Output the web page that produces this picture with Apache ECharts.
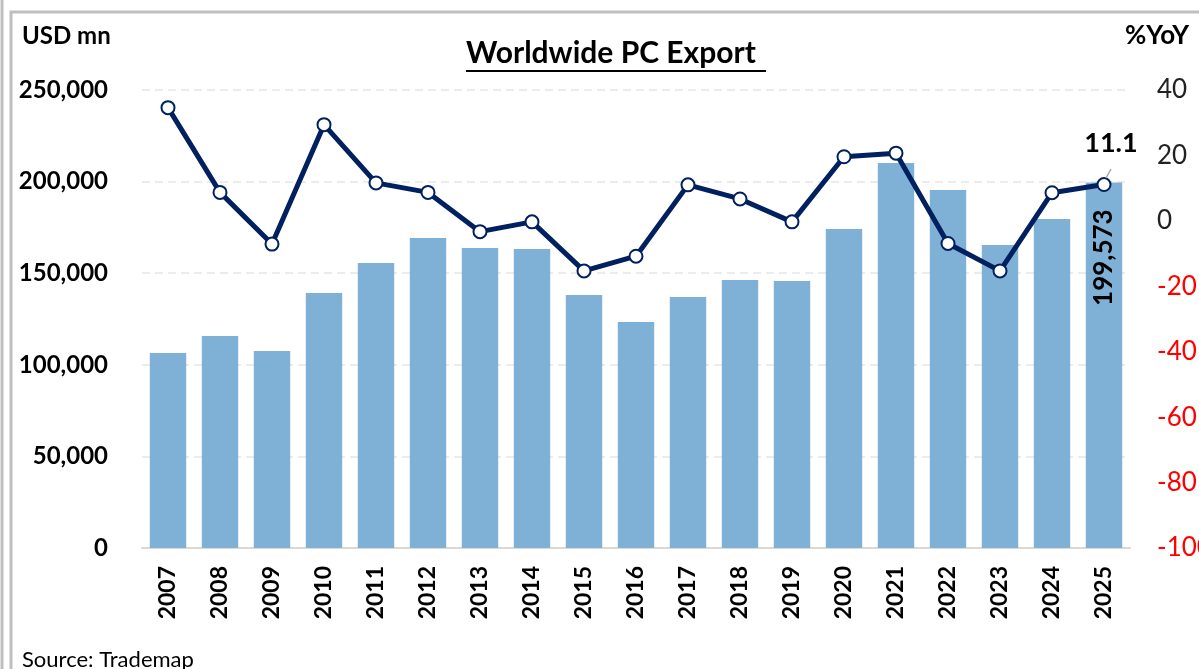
<!DOCTYPE html>
<html>
<head>
    <meta charset="UTF-8">
    <title>Worldwide PC Export</title>
    <style>
        html, body { margin: 0; padding: 0; background: #fff; }
        #container { width: 1199px; height: 669px; }
    </style>
</head>
<body>
    <div id="container"></div>
    <script src="https://cdn.jsdelivr.net/npm/echarts@6/dist/echarts.min.js"></script>
    <script type="text/javascript">
        // data
        var years = ['2007', '2008', '2009', '2010', '2011', '2012', '2013', '2014', '2015', '2016',
            '2017', '2018', '2019', '2020', '2021', '2022', '2023', '2024', '2025'];
        var exportValues = [106400, 115700, 107500, 139200, 155600, 169200, 163700, 163200, 138100, 123400,
            137000, 146300, 145700, 174100, 210100, 195400, 165400, 179600, 199573];
        var yoyValues = [34.6, 8.7, -7.1, 29.4, 11.6, 8.7, -3.3, -0.3, -15.3, -10.8,
            11.0, 6.7, -0.3, 19.6, 20.7, -6.9, -15.3, 8.6, 11.1];
        var leftTicks = [0, 250000, 50000];
        var rightTicks = [-100, 40, 20];

        var font = 'Lato, "Open Sans", sans-serif';
        var navy = '#002060';
        var lastIdx = years.length - 1;

        var chart = echarts.init(document.getElementById('container'));

        var barData = exportValues.map(function (v, i) {
            if (i !== lastIdx) return v;
            return {
                value: v,
                label: {
                    show: true,
                    position: 'insideTop',
                    rotate: 90,
                    align: 'right',
                    verticalAlign: 'middle',
                    distance: 27,
                    fontFamily: font,
                    fontWeight: 'bold',
                    fontSize: 26,
                    color: '#000',
                    formatter: function (p) { return p.value.toLocaleString('en-US'); }
                }
            };
        });

        var lineData = yoyValues.map(function (v, i) {
            if (i !== lastIdx) return v;
            return {
                value: v,
                label: {
                    show: true,
                    position: 'top',
                    distance: 20,
                    offset: [7, 0],
                    fontFamily: font,
                    fontWeight: 'bold',
                    fontSize: 27,
                    color: '#000',
                    formatter: '{c}'
                }
            };
        });

        var option = {
            animation: false,
            backgroundColor: '#fff',
            grid: { left: 142, right: 69, top: 90, bottom: 121, outerBoundsMode: 'none' },
            graphic: [
                {
                    type: 'rect',
                    shape: { x: 11, y: 12, width: 1200, height: 680 },
                    style: { fill: 'none', stroke: '#bfbfbf', lineWidth: 3 }
                },
                {
                    type: 'line',
                    shape: { x1: 2, y1: 0, x2: 2, y2: 669 },
                    style: { stroke: '#bfbfbf', lineWidth: 3 }
                },
                {
                    type: 'text', left: 22, top: 24,
                    style: { text: 'USD mn', font: 'bold 24px ' + font, fill: '#000' }
                },
                {
                    type: 'text', left: 1125, top: 23,
                    style: { text: '%YoY', font: 'bold 26px ' + font, fill: '#000' }
                },
                {
                    type: 'text', left: 466, top: 38,
                    style: { text: 'Worldwide PC Export', font: 'bold 30px ' + font, fill: '#000' }
                },
                {
                    type: 'line',
                    shape: { x1: 466, y1: 71, x2: 766, y2: 71 },
                    style: { stroke: '#000', lineWidth: 2 }
                },
                {
                    type: 'text', left: 22, top: 649,
                    style: { text: 'Source: Trademap', font: '22px ' + font, fill: '#000' }
                },
                {
                    type: 'line',
                    shape: { x1: 1106, y1: 178, x2: 1111, y2: 169 },
                    style: { stroke: '#a6a6a6', lineWidth: 1.5 },
                    z: 10
                }
            ],
            xAxis: {
                type: 'category',
                data: years,
                axisLine: { lineStyle: { color: '#d9d9d9', width: 2 } },
                axisTick: { show: false },
                axisLabel: {
                    rotate: 90,
                    margin: 18,
                    fontFamily: font,
                    fontWeight: 'bold',
                    fontSize: 23,
                    color: '#000'
                }
            },
            yAxis: [
                {
                    type: 'value',
                    min: leftTicks[0],
                    max: leftTicks[1],
                    interval: leftTicks[2],
                    axisLine: { show: false },
                    axisTick: { show: false },
                    splitLine: { lineStyle: { color: '#e6e6e6', type: [8, 5], width: 1.5 } },
                    axisLabel: {
                        margin: 34,
                        fontFamily: font,
                        fontWeight: 'bold',
                        fontSize: 24,
                        color: '#000'
                    }
                },
                {
                    type: 'value',
                    min: rightTicks[0],
                    max: rightTicks[1],
                    interval: rightTicks[2],
                    axisLine: { show: false },
                    axisTick: { show: false },
                    splitLine: { show: false },
                    axisLabel: {
                        margin: 27,
                        fontFamily: font,
                        fontSize: 26,
                        color: function (v) { return v < 0 ? '#ff0000' : '#222'; }
                    }
                }
            ],
            series: [
                {
                    name: 'Export',
                    type: 'bar',
                    data: barData,
                    barCategoryGap: '30%',
                    itemStyle: { color: '#7fb0d6' }
                },
                {
                    name: '%YoY',
                    type: 'line',
                    yAxisIndex: 1,
                    data: lineData,
                    symbol: 'circle',
                    symbolSize: 13,
                    lineStyle: { color: navy, width: 5 },
                    itemStyle: { color: '#fff', borderColor: navy, borderWidth: 2 },
                    z: 5
                }
            ]
        };

        chart.setOption(option);
    </script>
</body>
</html>
